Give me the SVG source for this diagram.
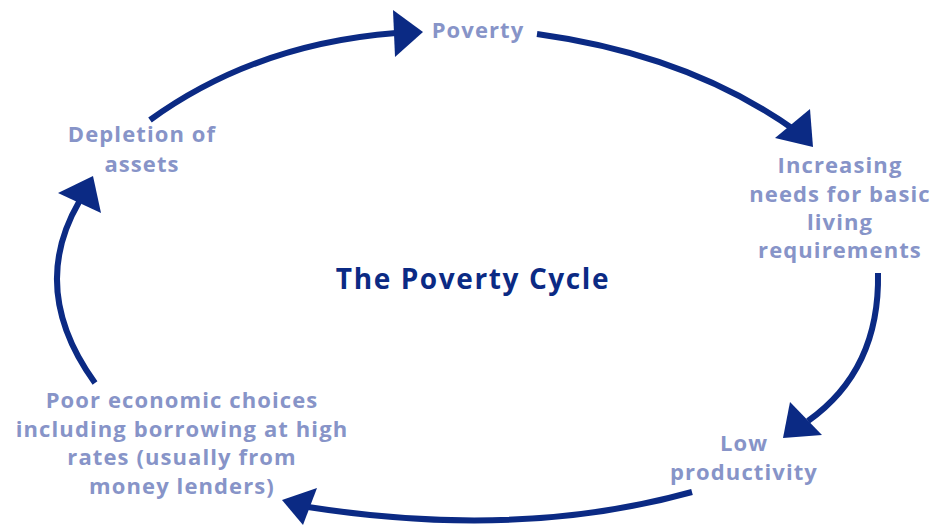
<svg xmlns="http://www.w3.org/2000/svg" width="934" height="526" viewBox="0 0 934 526">
  <style>
    .lbl { font-family: "Open Sans", Lato, "Liberation Sans", sans-serif; font-weight: bold; font-size: 22px; letter-spacing: 1.1px; fill: #8794c8; text-anchor: middle; }
    .title { font-family: "Open Sans", Lato, "Liberation Sans", sans-serif; font-weight: bold; font-size: 28px; letter-spacing: 1.6px; fill: #0b2a84; text-anchor: middle; }
    .conn { fill: none; stroke: #0b2a84; stroke-width: 6; }
    .head { fill: #0b2a84; stroke: none; }
  </style>
  <rect width="934" height="526" fill="#ffffff"/>
  <g id="connectors">
    <path class="conn" d="M150,120 Q255,44 396,33"/>
    <polygon class="head" points="393,10 423,32 395,57"/>
    <path class="conn" d="M537,34 Q690,55 796,131"/>
    <polygon class="head" points="775,138 810,109 813,147"/>
    <path class="conn" d="M878,273 Q880,370 808,421"/>
    <polygon class="head" points="790,402 783,438 822,435"/>
    <path class="conn" d="M692,492 Q520,540 308,507"/>
    <polygon class="head" points="282,500 317,488 303,525"/>
    <path class="conn" d="M95,383 Q28,290 79,202"/>
    <polygon class="head" points="58,193 93,176 101,213"/>
  </g>
  <g id="title">
    <text class="title" x="473" y="289">The Poverty Cycle</text>
  </g>
  <g id="node-poverty">
    <text class="lbl" x="478" y="38">Poverty</text>
  </g>
  <g id="node-needs">
    <text class="lbl" x="840" y="173">Increasing</text>
    <text class="lbl" x="840" y="202">needs for basic</text>
    <text class="lbl" x="840" y="230">living</text>
    <text class="lbl" x="840" y="258">requirements</text>
  </g>
  <g id="node-productivity">
    <text class="lbl" x="744" y="451">Low</text>
    <text class="lbl" x="744" y="480">productivity</text>
  </g>
  <g id="node-choices">
    <text class="lbl" x="182" y="408">Poor economic choices</text>
    <text class="lbl" x="182" y="437">including borrowing at high</text>
    <text class="lbl" x="182" y="465">rates (usually from</text>
    <text class="lbl" x="182" y="494">money lenders)</text>
  </g>
  <g id="node-depletion">
    <text class="lbl" x="142" y="142">Depletion of</text>
    <text class="lbl" x="142" y="172">assets</text>
  </g>
</svg>
